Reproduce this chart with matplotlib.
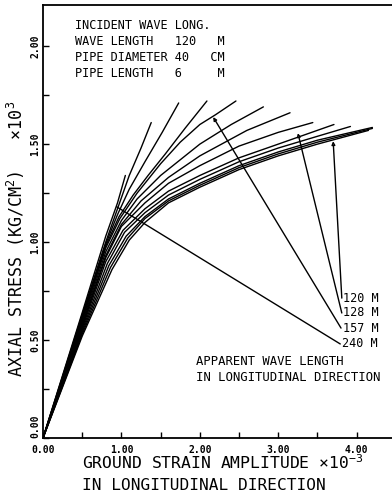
import matplotlib

matplotlib.use("Agg")
import matplotlib.pyplot as plt

plt.rcParams["font.family"] = ["DejaVu Sans Mono"]
plt.rcParams["mathtext.fontset"] = "custom"
plt.rcParams["mathtext.rm"] = "DejaVu Sans Mono"
plt.rcParams["mathtext.it"] = "DejaVu Sans Mono"
plt.rcParams["mathtext.default"] = "regular"

# stress-strain curves (strain x1e-3, stress KG/CM2 x1e3)
curve_a_x = [0.0, 0.5, 0.8, 0.95, 1.05]
curve_a_y = [0.0, 0.64, 1.03, 1.20, 1.34]
curve_b_x = [0.0, 0.5, 0.8, 0.95, 1.1, 1.25, 1.38]
curve_b_y = [0.0, 0.63, 1.00, 1.17, 1.34, 1.48, 1.61]
curve_c_x = [0.0, 0.5, 0.8, 0.95, 1.1, 1.3, 1.52, 1.73]
curve_c_y = [0.0, 0.62, 0.99, 1.14, 1.27, 1.41, 1.56, 1.71]
curve_d_x = [0.0, 0.5, 0.8, 0.97, 1.15, 1.34, 1.56, 1.81, 2.09]
curve_d_y = [0.0, 0.61, 0.98, 1.13, 1.24, 1.34, 1.45, 1.58, 1.72]
curve_e_x = [0.0, 0.5, 0.8, 0.98, 1.2, 1.5, 1.75, 2.0, 2.2, 2.46]
curve_e_y = [0.0, 0.60, 0.97, 1.12, 1.25, 1.40, 1.51, 1.60, 1.65, 1.72]
curve_f_x = [0.0, 0.5, 0.8, 1.0, 1.2, 1.5, 2.0, 2.4, 2.81]
curve_f_y = [0.0, 0.59, 0.95, 1.11, 1.22, 1.34, 1.50, 1.60, 1.69]
curve_g_x = [0.0, 0.5, 0.8, 1.0, 1.25, 1.6, 2.0, 2.6, 3.15]
curve_g_y = [0.0, 0.58, 0.93, 1.09, 1.21, 1.33, 1.44, 1.57, 1.66]
curve_h_x = [0.0, 0.5, 0.8, 1.0, 1.3, 1.6, 2.0, 2.5, 3.0, 3.44]
curve_h_y = [0.0, 0.57, 0.92, 1.08, 1.20, 1.30, 1.39, 1.49, 1.56, 1.61]
curve_i_x = [0.0, 0.5, 0.8, 1.02, 1.3, 1.6, 2.0, 2.5, 3.0, 3.71]
curve_i_y = [0.0, 0.56, 0.90, 1.06, 1.17, 1.26, 1.34, 1.43, 1.50, 1.60]
curve_j_x = [0.0, 0.5, 0.82, 1.04, 1.3, 1.6, 2.0, 2.5, 3.0, 3.5, 3.92]
curve_j_y = [0.0, 0.55, 0.89, 1.05, 1.15, 1.24, 1.32, 1.41, 1.48, 1.54, 1.59]
curve_k1_x = [0.0, 0.5, 0.84, 1.06, 1.3, 1.6, 2.0, 2.5, 3.0, 3.5, 4.2]
curve_k1_y = [0.0, 0.54, 0.88, 1.03, 1.13, 1.22, 1.30, 1.39, 1.46, 1.52, 1.585]
curve_k2_x = [0.0, 0.5, 0.86, 1.08, 1.3, 1.6, 2.0, 2.5, 3.0, 3.5, 4.2]
curve_k2_y = [0.0, 0.53, 0.87, 1.02, 1.12, 1.21, 1.29, 1.38, 1.45, 1.51, 1.58]
curve_k3_x = [0.0, 0.5, 0.88, 1.1, 1.3, 1.6, 2.0, 2.5, 3.0, 3.5, 4.15]
curve_k3_y = [0.0, 0.52, 0.86, 1.01, 1.10, 1.20, 1.28, 1.37, 1.44, 1.50, 1.57]

curves = [
    (curve_a_x, curve_a_y), (curve_b_x, curve_b_y), (curve_c_x, curve_c_y),
    (curve_d_x, curve_d_y), (curve_e_x, curve_e_y), (curve_f_x, curve_f_y),
    (curve_g_x, curve_g_y), (curve_h_x, curve_h_y), (curve_i_x, curve_i_y),
    (curve_j_x, curve_j_y), (curve_k1_x, curve_k1_y), (curve_k2_x, curve_k2_y),
    (curve_k3_x, curve_k3_y),
]

# apparent wave length labels and where their leader lines end
wave_labels = ["120 M", "128 M", "157 M", "240 M"]
label_x = [3.83, 3.83, 3.82, 3.81]
label_y = [0.714, 0.638, 0.561, 0.48]
tip_x = [3.70, 3.25, 2.17, 0.94]
tip_y = [1.515, 1.556, 1.638, 1.18]
has_head = [True, True, True, False]

info_lines = [
    "INCIDENT WAVE LONG.",
    "WAVE LENGTH   120   M",
    "PIPE DIAMETER 40   CM",
    "PIPE LENGTH   6     M",
]

x_ticks = [0, 1, 2, 3, 4]
x_minor = [0.5, 1.5, 2.5, 3.5]
y_ticks = [0, 0.5, 1.0, 1.5, 2.0]
y_minor = [0.25, 0.75, 1.25, 1.75]

fig = plt.figure(figsize=(3.92, 4.94), dpi=100)
ax = fig.add_axes([43 / 392, 56 / 494, 349 / 392, 433 / 494])

for xs, ys in curves:
    ax.plot(xs, ys, color="black", lw=1.0, solid_capstyle="round",
            solid_joinstyle="round")

for lab, lx, ly, tx, ty, head in zip(wave_labels, label_x, label_y, tip_x, tip_y, has_head):
    style = "-|>" if head else "-"
    ax.annotate(
        "", xy=(tx, ty), xytext=(lx - 0.02, ly),
        arrowprops=dict(arrowstyle=style, mutation_scale=5, lw=1.0,
                        fc="white", ec="black", shrinkA=0, shrinkB=0),
    )
    ax.text(lx, ly, lab, fontsize=8.5, ha="left", va="center")

ax.text(1.95, 0.388, "APPARENT WAVE LENGTH", fontsize=8.8, ha="left", va="center")
ax.text(1.95, 0.311, "IN LONGITUDINAL DIRECTION", fontsize=8.8, ha="left", va="center")

for i, line in enumerate(info_lines):
    ax.text(0.41, 2.107 - i * 0.0815, line, fontsize=8.6, ha="left", va="center")

ax.set_xlim(0, 4.45)
ax.set_ylim(0, 2.21)
ax.set_xticks(x_ticks)
ax.set_xticks(x_minor, minor=True)
ax.set_yticks(y_ticks)
ax.set_yticks(y_minor, minor=True)
ax.set_xticklabels([f"{v:.2f}" for v in x_ticks], fontsize=7, fontweight="bold")
ylabels = ax.set_yticklabels([f"{v:.2f}" for v in y_ticks], fontsize=7,
                             fontweight="bold", rotation=90, va="center")
ylabels[0].set_va("bottom")
ax.tick_params(which="both", direction="in", length=4, width=1.0)
ax.tick_params(axis="x", pad=5)
ax.tick_params(axis="y", pad=2)
ax.spines["right"].set_visible(False)
for side in ["left", "bottom", "top"]:
    ax.spines[side].set_linewidth(1.3)

fig.text(16 / 392, 0.516, "AXIAL STRESS (KG/CM$^2$)   ×10$^3$", rotation=90,
         fontsize=12, ha="center", va="center")
fig.text(82 / 392, (494 - 463) / 494, "GROUND STRAIN AMPLITUDE ×10$^{-3}$",
         fontsize=11.8, ha="left", va="center")
fig.text(82 / 392, (494 - 485) / 494, "IN LONGITUDINAL DIRECTION",
         fontsize=11.6, ha="left", va="center")

fig.savefig("out.png", dpi=100)
